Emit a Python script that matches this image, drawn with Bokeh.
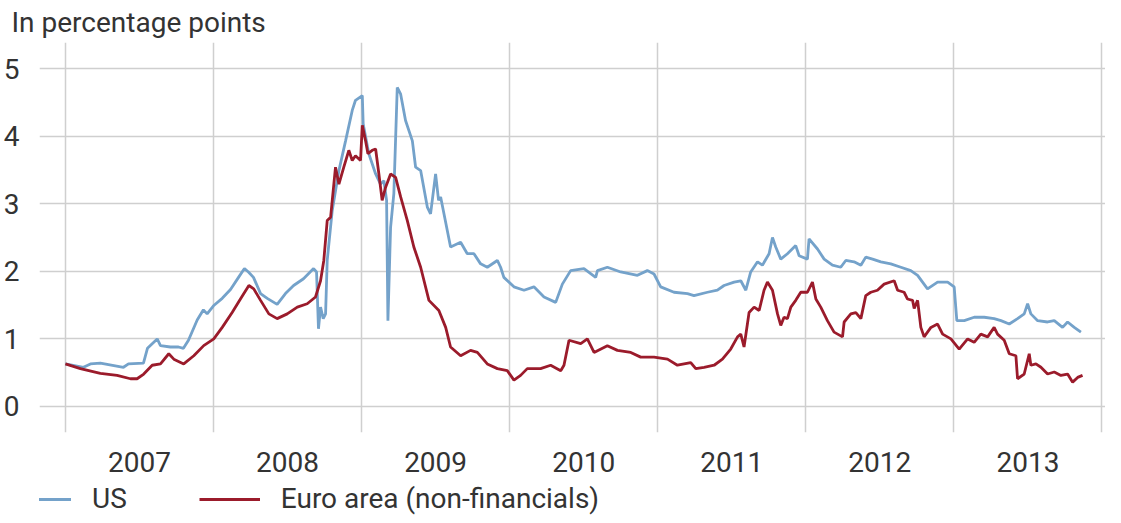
from bokeh.plotting import figure
from bokeh.layouts import column
from bokeh.models import Range1d, FixedTicker, Legend, LegendItem
from bokeh.embed import file_html
from bokeh.resources import INLINE

# ---- data (decimal year, percentage points) ----
us_x = [2007.000, 2007.122, 2007.169, 2007.236, 2007.392, 2007.426, 2007.527, 2007.554, 2007.620, 2007.642,
        2007.709, 2007.764, 2007.797, 2007.831, 2007.890, 2007.932, 2007.957, 2008.000, 2008.059, 2008.115,
        2008.169, 2008.209, 2008.236, 2008.270, 2008.318, 2008.363, 2008.430, 2008.486, 2008.541, 2008.608,
        2008.676, 2008.696, 2008.709, 2008.723, 2008.741, 2008.757, 2008.768, 2008.802, 2008.847, 2008.892,
        2008.937, 2008.959, 2009.005, 2009.011, 2009.049, 2009.095, 2009.128, 2009.151, 2009.169, 2009.178,
        2009.196, 2009.218, 2009.241, 2009.264, 2009.297, 2009.343, 2009.365, 2009.399, 2009.444, 2009.466,
        2009.500, 2009.520, 2009.534, 2009.601, 2009.669, 2009.714, 2009.759, 2009.804, 2009.849, 2009.917,
        2009.939, 2009.961, 2010.029, 2010.097, 2010.164, 2010.232, 2010.311, 2010.356, 2010.412, 2010.502,
        2010.581, 2010.593, 2010.660, 2010.750, 2010.863, 2010.930, 2010.975, 2011.020, 2011.110, 2011.201,
        2011.245, 2011.336, 2011.403, 2011.448, 2011.516, 2011.561, 2011.595, 2011.628, 2011.674, 2011.707,
        2011.752, 2011.775, 2011.797, 2011.831, 2011.876, 2011.932, 2011.955, 2012.011, 2012.022, 2012.079,
        2012.124, 2012.180, 2012.236, 2012.270, 2012.326, 2012.372, 2012.405, 2012.451, 2012.507, 2012.574,
        2012.642, 2012.709, 2012.755, 2012.822, 2012.890, 2012.958, 2013.002, 2013.020, 2013.070, 2013.137,
        2013.205, 2013.272, 2013.318, 2013.374, 2013.430, 2013.475, 2013.498, 2013.520, 2013.566, 2013.633,
        2013.678, 2013.734, 2013.768, 2013.813, 2013.858]
us_y = [0.63, 0.58, 0.63, 0.64, 0.58, 0.63, 0.64, 0.86, 1.00, 0.90,
        0.88, 0.88, 0.86, 0.98, 1.28, 1.43, 1.37, 1.49, 1.60, 1.73,
        1.91, 2.04, 1.99, 1.91, 1.67, 1.60, 1.51, 1.67, 1.79, 1.89,
        2.04, 1.99, 1.15, 1.47, 1.30, 1.37, 2.16, 2.90, 3.49, 3.93,
        4.38, 4.53, 4.60, 4.18, 3.74, 3.44, 3.29, 3.34, 3.05, 1.27,
        2.65, 3.15, 4.72, 4.62, 4.23, 3.93, 3.54, 3.49, 2.95, 2.85,
        3.44, 3.05, 3.10, 2.36, 2.43, 2.26, 2.26, 2.11, 2.06, 2.16,
        2.06, 1.91, 1.77, 1.72, 1.77, 1.62, 1.54, 1.81, 2.01, 2.04,
        1.91, 2.01, 2.06, 1.99, 1.94, 2.01, 1.96, 1.77, 1.69, 1.67,
        1.64, 1.69, 1.72, 1.79, 1.84, 1.86, 1.72, 1.99, 2.14, 2.09,
        2.26, 2.50, 2.36, 2.18, 2.26, 2.38, 2.23, 2.18, 2.48, 2.33,
        2.18, 2.09, 2.06, 2.16, 2.14, 2.09, 2.21, 2.18, 2.14, 2.11,
        2.06, 2.01, 1.94, 1.74, 1.84, 1.84, 1.77, 1.27, 1.27, 1.32,
        1.32, 1.30, 1.27, 1.22, 1.30, 1.37, 1.52, 1.37, 1.27, 1.25,
        1.27, 1.17, 1.25, 1.17, 1.10]

ea_x = [2007.000, 2007.101, 2007.236, 2007.349, 2007.439, 2007.484, 2007.529, 2007.586, 2007.642, 2007.698,
        2007.732, 2007.799, 2007.867, 2007.934, 2008.002, 2008.059, 2008.126, 2008.182, 2008.239, 2008.272,
        2008.318, 2008.374, 2008.430, 2008.498, 2008.566, 2008.633, 2008.689, 2008.723, 2008.745, 2008.768,
        2008.791, 2008.824, 2008.847, 2008.880, 2008.914, 2008.937, 2008.959, 2008.993, 2009.005, 2009.027,
        2009.043, 2009.072, 2009.095, 2009.117, 2009.139, 2009.162, 2009.196, 2009.230, 2009.264, 2009.309,
        2009.353, 2009.399, 2009.455, 2009.522, 2009.568, 2009.601, 2009.669, 2009.736, 2009.782, 2009.849,
        2009.917, 2009.984, 2010.029, 2010.074, 2010.119, 2010.209, 2010.277, 2010.345, 2010.367, 2010.401,
        2010.480, 2010.525, 2010.570, 2010.660, 2010.728, 2010.818, 2010.885, 2010.975, 2011.066, 2011.133,
        2011.223, 2011.257, 2011.313, 2011.381, 2011.437, 2011.493, 2011.539, 2011.561, 2011.583, 2011.617,
        2011.651, 2011.685, 2011.718, 2011.741, 2011.775, 2011.809, 2011.831, 2011.853, 2011.876, 2011.899,
        2011.932, 2011.966, 2012.011, 2012.045, 2012.068, 2012.101, 2012.146, 2012.191, 2012.248, 2012.259,
        2012.304, 2012.338, 2012.372, 2012.405, 2012.439, 2012.484, 2012.529, 2012.597, 2012.620, 2012.664,
        2012.687, 2012.721, 2012.732, 2012.755, 2012.777, 2012.799, 2012.845, 2012.890, 2012.924, 2012.980,
        2013.036, 2013.093, 2013.137, 2013.182, 2013.228, 2013.272, 2013.295, 2013.340, 2013.374, 2013.419,
        2013.430, 2013.475, 2013.509, 2013.520, 2013.554, 2013.588, 2013.633, 2013.678, 2013.723, 2013.768,
        2013.802, 2013.836, 2013.869]
ea_y = [0.63, 0.56, 0.49, 0.46, 0.41, 0.41, 0.48, 0.61, 0.63, 0.78,
        0.70, 0.63, 0.75, 0.90, 1.00, 1.17, 1.39, 1.59, 1.79, 1.74,
        1.57, 1.37, 1.30, 1.37, 1.47, 1.52, 1.62, 1.86, 2.16, 2.75,
        2.80, 3.54, 3.29, 3.54, 3.79, 3.64, 3.71, 3.64, 4.16, 3.93,
        3.74, 3.79, 3.81, 3.44, 3.05, 3.24, 3.44, 3.39, 3.10, 2.75,
        2.36, 2.06, 1.57, 1.42, 1.17, 0.88, 0.75, 0.83, 0.80, 0.63,
        0.56, 0.53, 0.39, 0.46, 0.56, 0.56, 0.61, 0.53, 0.61, 0.98,
        0.93, 1.00, 0.80, 0.90, 0.83, 0.80, 0.73, 0.73, 0.70, 0.61,
        0.65, 0.56, 0.58, 0.61, 0.70, 0.85, 1.03, 1.07, 0.88, 1.39,
        1.47, 1.42, 1.72, 1.84, 1.72, 1.37, 1.20, 1.32, 1.30, 1.47,
        1.57, 1.69, 1.69, 1.84, 1.59, 1.47, 1.27, 1.10, 1.03, 1.25,
        1.37, 1.39, 1.30, 1.64, 1.69, 1.72, 1.81, 1.86, 1.72, 1.69,
        1.59, 1.57, 1.45, 1.57, 1.17, 1.03, 1.17, 1.22, 1.07, 1.00,
        0.85, 1.00, 0.95, 1.07, 1.03, 1.17, 1.07, 0.98, 0.78, 0.75,
        0.41, 0.48, 0.78, 0.61, 0.63, 0.58, 0.48, 0.51, 0.46, 0.48,
        0.36, 0.43, 0.46]

years = [2007, 2008, 2009, 2010, 2011, 2012, 2013]
year_labels = ["2007", "2008", "2009", "2010", "2011", "2012", "2013"]
y_ticks = [0, 1, 2, 3, 4, 5]
series_names = ["US", "Euro area (non-financials)"]
unit_label = "In percentage points"

# ---- styling ----
FONT = "Roboto"
TXT = "#333333"
GRID = "#cfcfcf"
BLUE = "#74a2ca"
RED = "#9b1b2b"
FS = "28px"

p = figure(width=1105, height=482, output_backend="svg", toolbar_location=None,
           x_range=Range1d(2006.825, 2014.024), y_range=Range1d(-0.385, 5.385),
           min_border_left=32, min_border_right=0, min_border_top=42, min_border_bottom=50)
p.outline_line_color = None
p.background_fill_color = "white"
p.border_fill_color = "white"

# title (unit label)
p.title.text = unit_label
p.title.align = "left"
p.title.offset = -28
p.title.standoff = 7
p.title.text_font = FONT
p.title.text_font_size = "28px"
p.title.text_font_style = "normal"
p.title.text_color = TXT

# axes
p.xaxis.ticker = FixedTicker(ticks=[y + 0.5 for y in years])
p.xaxis.major_label_overrides = {y + 0.5: lab for y, lab in zip(years, year_labels)}
p.yaxis.ticker = FixedTicker(ticks=y_ticks)
for ax in (p.xaxis[0], p.yaxis[0]):
    ax.axis_line_color = None
    ax.major_tick_line_color = None
    ax.minor_tick_line_color = None
    ax.major_label_text_font = FONT
    ax.major_label_text_font_size = FS
    ax.major_label_text_color = TXT
p.xaxis.major_label_standoff = 13
p.yaxis.major_label_standoff = 14

# grids
p.xgrid.ticker = FixedTicker(ticks=years + [2014])
p.xgrid.grid_line_color = GRID
p.xgrid.grid_line_width = 1.5
p.ygrid.ticker = FixedTicker(ticks=y_ticks)
p.ygrid.grid_line_color = GRID
p.ygrid.grid_line_width = 1.5

p.line(us_x, us_y, line_color=BLUE, line_width=2.8)
p.line(ea_x, ea_y, line_color=RED, line_width=2.8)

# ---- legend strip (same series, drawn outside its own view so only the key shows) ----
q = figure(width=1105, height=33, output_backend="svg", toolbar_location=None,
           x_range=Range1d(0, 1), y_range=Range1d(0, 1),
           x_axis_location=None, y_axis_location=None,
           min_border_left=0, min_border_right=0, min_border_top=0, min_border_bottom=0)
q.outline_line_color = None
q.xgrid.visible = False
q.ygrid.visible = False
q_us = q.line(us_x, us_y, line_color=BLUE, line_width=3)
q_ea = q.line(ea_x, ea_y, line_color=RED, line_width=3)
lg = Legend(items=[LegendItem(label=series_names[0], renderers=[q_us]),
                   LegendItem(label=series_names[1], renderers=[q_ea])],
            location=(-29, 0), orientation="horizontal", glyph_width=61, glyph_height=20,
            label_standoff=21, padding=0, margin=0, spacing=72, border_line_color=None,
            background_fill_alpha=0, label_text_font=FONT, label_text_font_size=FS,
            label_text_color=TXT)
q.add_layout(lg, "center")

open("out.html", "w").write(file_html(column(p, q, spacing=0), INLINE))
